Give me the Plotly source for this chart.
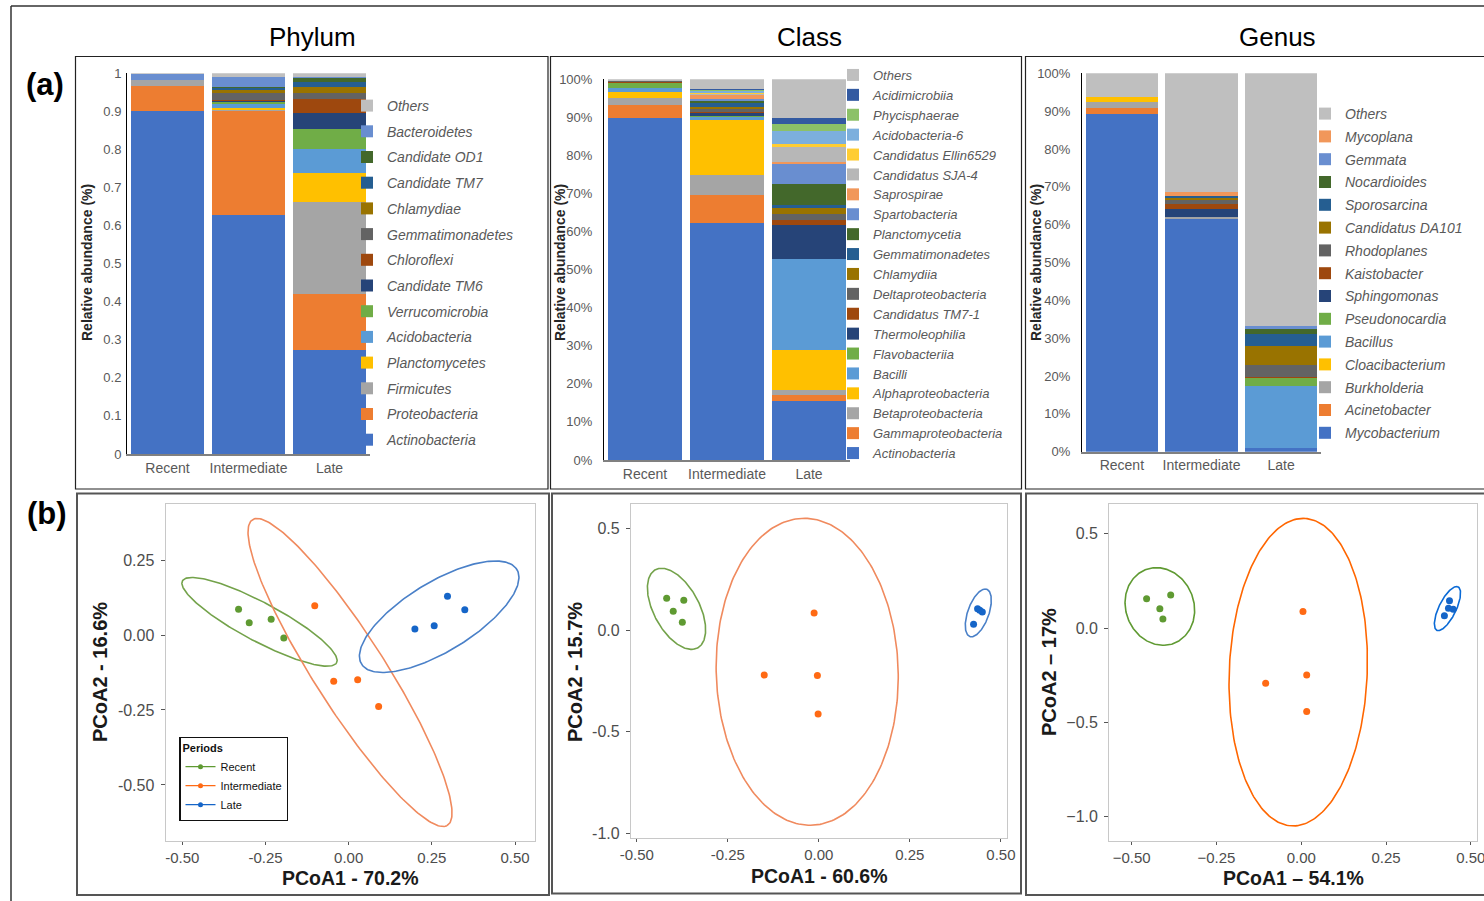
import numpy as np
import plotly.graph_objects as go

W, H = 1484, 901
FONT = "Liberation Sans, Arial, Helvetica, sans-serif"

periods = ["Recent", "Intermediate", "Late"]

# ---------------- relative abundance data (bottom-to-top stacking order) ----------------
phylum_taxa = ["Actinobacteria", "Proteobacteria", "Firmicutes", "Planctomycetes",
               "Acidobacteria", "Verrucomicrobia", "Candidate TM6", "Chloroflexi",
               "Gemmatimonadetes", "Chlamydiae", "Candidate TM7", "Candidate OD1",
               "Bacteroidetes", "Others"]
phylum_recent = [0.901, 0.066, 0.015, 0, 0, 0, 0, 0, 0, 0, 0, 0, 0.016, 0.002]
phylum_intermediate = [0.627, 0.274, 0.004, 0.003, 0.012, 0.006, 0.002, 0.002,
                       0.018, 0.007, 0.008, 0.002, 0.024, 0.011]
phylum_late = [0.274, 0.145, 0.243, 0.075, 0.063, 0.054, 0.043, 0.035,
               0.017, 0.016, 0.011, 0.011, 0.004, 0.009]

class_taxa = ["Actinobacteria", "Gammaproteobacteria", "Betaproteobacteria",
              "Alphaproteobacteria", "Bacilli", "Flavobacteriia", "Thermoleophilia",
              "Candidatus TM7-1", "Deltaproteobacteria", "Chlamydiia", "Gemmatimonadetes",
              "Planctomycetia", "Spartobacteria", "Saprospirae", "Candidatus SJA-4",
              "Candidatus Ellin6529", "Acidobacteria-6", "Phycisphaerae",
              "Acidimicrobiia", "Others"]
class_recent = [89.8, 3.5, 1.9, 1.5, 1.1, 1.2, 0.1, 0.3, 0.1, 0.1,
                0, 0, 0, 0, 0, 0, 0, 0, 0, 0.4]
class_intermediate = [62.3, 7.4, 5.1, 14.5, 0.8, 0.2, 0.8, 0.4, 0.6, 0.7,
                      1.1, 0.5, 0.5, 0.9, 0.3, 0.3, 0.6, 0.2, 0.2, 2.6]
class_late = [15.6, 1.5, 1.3, 10.5, 23.9, 0.1, 8.9, 1.3, 1.6, 1.6,
              0.7, 5.5, 5.4, 0.5, 3.9, 0.8, 3.3, 1.8, 1.6, 10.2]

genus_taxa = ["Mycobacterium", "Acinetobacter", "Burkholderia", "Cloacibacterium",
              "Bacillus", "Pseudonocardia", "Sphingomonas", "Kaistobacter",
              "Rhodoplanes", "Candidatus DA101", "Sporosarcina", "Nocardioides",
              "Gemmata", "Mycoplana", "Others"]
genus_recent = [89.3, 1.5, 1.6, 1.3, 0, 0, 0, 0, 0, 0, 0, 0, 0, 0, 6.3]
genus_intermediate = [61.5, 0, 0.6, 0, 0, 0, 2.0, 1.4, 1.2, 0.4, 0.5, 0, 0, 1.0, 31.4]
genus_late = [0.9, 0, 0, 0, 16.5, 2.0, 0, 0.4, 3.1, 5.1, 3.1, 1.2, 0.9, 0, 66.8]

series_colors = ["#4472C4", "#ED7D31", "#A5A5A5", "#FFC000", "#5B9BD5", "#70AD47",
                 "#264478", "#9E480E", "#636363", "#997300", "#255E91", "#43682B",
                 "#698ED0", "#F1975A", "#B7B7B7", "#FFCD33", "#7CAFDD", "#8CC168",
                 "#335AA1"]
others_color = "#BFBFBF"

phylum_ticks = [0, 0.1, 0.2, 0.3, 0.4, 0.5, 0.6, 0.7, 0.8, 0.9, 1]
phylum_ticktext = ["0", "0.1", "0.2", "0.3", "0.4", "0.5", "0.6", "0.7", "0.8", "0.9", "1"]
pct_ticks = [0, 10, 20, 30, 40, 50, 60, 70, 80, 90, 100]
pct_ticktext = [f"{v}%" for v in pct_ticks]

# ---------------- PCoA ordination data ----------------
group_names = ["Recent", "Intermediate", "Late"]
point_colors = ["#5F9A32", "#FF6A14", "#1565C8"]

phylum_pc1 = {"Recent": [-0.331, -0.299, -0.233, -0.195],
              "Intermediate": [-0.102, -0.045, 0.027, 0.090],
              "Late": [0.199, 0.257, 0.297, 0.349]}
phylum_pc2 = {"Recent": [0.086, 0.041, 0.053, -0.010],
              "Intermediate": [0.098, -0.154, -0.149, -0.238],
              "Late": [0.020, 0.031, 0.129, 0.084]}
class_pc1 = {"Recent": [-0.418, -0.371, -0.400, -0.375],
             "Intermediate": [-0.013, -0.150, -0.004, -0.002],
             "Late": [0.425, 0.436, 0.442, 0.449]}
class_pc2 = {"Recent": [0.156, 0.146, 0.092, 0.038],
             "Intermediate": [0.084, -0.221, -0.223, -0.413],
             "Late": [0.028, 0.104, 0.097, 0.088]}
genus_pc1 = {"Recent": [-0.456, -0.385, -0.417, -0.408],
             "Intermediate": [0.005, 0.016, -0.105, 0.016],
             "Late": [0.422, 0.437, 0.434, 0.448]}
genus_pc2 = {"Recent": [0.155, 0.175, 0.102, 0.048],
             "Intermediate": [0.088, -0.249, -0.293, -0.442],
             "Late": [0.065, 0.145, 0.104, 0.099]}

# confidence ellipses: centre x, centre y, semi-major, semi-minor, rotation (deg)
phylum_ellipses = {"Recent": (-0.268, 0.044, 0.269, 0.063, -30.8),
                   "Intermediate": (0.004, -0.125, 0.588, 0.110, -60.3),
                   "Late": (0.272, 0.061, 0.282, 0.112, 35.0)}
class_ellipses = {"Recent": (-0.391, 0.104, 0.204, 0.067, -76.9),
                  "Intermediate": (-0.032, -0.205, 0.754, 0.250, -89.3),
                  "Late": (0.438, 0.084, 0.119, 0.030, 80.2)}
genus_ellipses = {"Recent": (-0.417, 0.114, 0.206, 0.102, -86.3),
                  "Intermediate": (-0.009, -0.234, 0.815, 0.2035, 88.9),
                  "Late": (0.431, 0.103, 0.120, 0.027, 76.3)}
ellipse_colors_soft = ["#73A24A", "#F08A5E", "#4A80C8"]
ellipse_colors_sharp = ["#5F9A32", "#FF6600", "#0A6AD6"]

pc_ticks = [-0.5, -0.25, 0.0, 0.25, 0.5]
pc_ticktext = ["-0.50", "-0.25", "0.00", "0.25", "0.50"]
pc_ticktext_minus = ["\u22120.50", "\u22120.25", "0.00", "0.25", "0.50"]
phylum_y_ticks = [-0.5, -0.25, 0.0, 0.25]
phylum_y_ticktext = ["-0.50", "-0.25", "0.00", "0.25"]
class_y_ticks = [-1.0, -0.5, 0.0, 0.5]
class_y_ticktext = ["-1.0", "-0.5", "0.0", "0.5"]
genus_y_ticktext = ["\u22121.0", "\u22120.5", "0.0", "0.5"]


def fx(px):
    return px / W


def fy(py):
    return 1 - py / H


def ellipse_xy(cx, cy, a, b, deg, n=240):
    t = np.linspace(0, 2 * np.pi, n)
    th = np.deg2rad(deg)
    x = cx + a * np.cos(t) * np.cos(th) - b * np.sin(t) * np.sin(th)
    y = cy + a * np.cos(t) * np.sin(th) + b * np.sin(t) * np.cos(th)
    return x, y


fig = go.Figure()

# ---------------- stacked bars ----------------
bar_sets = [
    (phylum_taxa, [phylum_recent, phylum_intermediate, phylum_late], "x", "y", "legend"),
    (class_taxa, [class_recent, class_intermediate, class_late], "x2", "y2", "legend2"),
    (genus_taxa, [genus_recent, genus_intermediate, genus_late], "x3", "y3", "legend3"),
]
for k, (taxa, cols, xa, ya, lg) in enumerate(bar_sets):
    n = len(taxa)
    for i, name in enumerate(taxa):
        color = others_color if name == "Others" else series_colors[i]
        fig.add_trace(go.Bar(
            x=periods, y=[cols[0][i], cols[1][i], cols[2][i]], name=name,
            marker=dict(color=color, line=dict(width=0)),
            xaxis=xa, yaxis=ya, legend=lg, legendgroup=f"{lg}_{i}",
            legendrank=n - i,
            hovertemplate=f"{name}<br>%{{x}}: %{{y}}<extra></extra>",
        ))

# ---------------- PCoA scatter + ellipses ----------------
pcoa_sets = [
    (phylum_pc1, phylum_pc2, phylum_ellipses, "x4", "y4", ellipse_colors_soft),
    (class_pc1, class_pc2, class_ellipses, "x5", "y5", ellipse_colors_soft),
    (genus_pc1, genus_pc2, genus_ellipses, "x6", "y6", ellipse_colors_sharp),
]
for pc1, pc2, ells, xa, ya, ecols in pcoa_sets:
    for g, name in enumerate(group_names):
        ex, ey = ellipse_xy(*ells[name])
        fig.add_trace(go.Scatter(x=ex, y=ey, mode="lines", line=dict(color=ecols[g], width=1.6),
                                 xaxis=xa, yaxis=ya, showlegend=False, hoverinfo="skip"))
        fig.add_trace(go.Scatter(x=pc1[name], y=pc2[name], mode="markers", name=name,
                                 marker=dict(color=point_colors[g], size=7),
                                 xaxis=xa, yaxis=ya, showlegend=False))

# legend keys for the sampling periods
for g, name in enumerate(group_names):
    fig.add_trace(go.Scatter(x=[None], y=[None], mode="lines+markers", name=name,
                             line=dict(color=point_colors[g], width=1.2),
                             marker=dict(color=point_colors[g], size=5),
                             xaxis="x4", yaxis="y4", legend="legend4"))

# ---------------- axes ----------------
tick_grey = "#595959"
bar_x = dict(type="category", showline=True, linecolor="#808080", linewidth=1.5,
             ticks="", showgrid=False, automargin=False,
             tickfont=dict(size=14, color=tick_grey, family=FONT), fixedrange=True)
bar_y = dict(showline=True, linecolor="#000000", linewidth=1, ticks="", showgrid=False,
             zeroline=False, automargin=False,
             tickfont=dict(size=13, color=tick_grey, family=FONT), fixedrange=True)

layout = dict(
    width=W, height=H, margin=dict(l=0, r=0, t=0, b=0, autoexpand=False),
    template="none",
    paper_bgcolor="white", plot_bgcolor="rgba(0,0,0,0)",
    barmode="stack", bargap=0.09,
    font=dict(family=FONT),
    xaxis=dict(bar_x, domain=[fx(127), fx(370)], anchor="y"),
    yaxis=dict(bar_y, domain=[fy(454), fy(73.3)], anchor="x", range=[0, 1],
               tickvals=phylum_ticks, ticktext=phylum_ticktext, ticklabelstandoff=2),
    xaxis2=dict(bar_x, domain=[fx(604), fx(850)], anchor="y2"),
    yaxis2=dict(bar_y, domain=[fy(460), fy(79.3)], anchor="x2", range=[0, 100],
                tickvals=pct_ticks, ticktext=pct_ticktext, ticklabelstandoff=8),
    xaxis3=dict(bar_x, domain=[fx(1082), fx(1321)], anchor="y3"),
    yaxis3=dict(bar_y, domain=[fy(451.7), fy(73.3)], anchor="x3", range=[0, 100],
                tickvals=pct_ticks, ticktext=pct_ticktext, ticklabelstandoff=8),
)

pc_axis = dict(showline=True, mirror=True, linecolor="#C8C8C8", linewidth=1.3,
               ticks="outside", ticklen=4, tickcolor="#555555", tickwidth=1.2,
               showgrid=False, zeroline=False, automargin=False,
               tickfont=dict(size=16, color="#4D4D4D", family=FONT), fixedrange=True)
pc_xfont = dict(size=15, color="#4D4D4D", family=FONT)

layout.update(
    xaxis4=dict(pc_axis, domain=[fx(165.7), fx(535)], anchor="y4", range=[-0.55, 0.56],
                tickvals=pc_ticks, ticktext=pc_ticktext, ticklabelstandoff=0, ticklen=3,
                tickfont=pc_xfont),
    yaxis4=dict(pc_axis, domain=[fy(840.7), fy(504)], anchor="x4", range=[-0.686, 0.437],
                tickvals=phylum_y_ticks, ticktext=phylum_y_ticktext, ticklabelstandoff=3),
    xaxis5=dict(pc_axis, domain=[fx(631), fx(1006.7)], anchor="y5", range=[-0.516, 0.516],
                tickvals=pc_ticks, ticktext=pc_ticktext, ticklabelstandoff=0, ticklen=3,
                tickfont=pc_xfont),
    yaxis5=dict(pc_axis, domain=[fy(838.3), fy(504)], anchor="x5", range=[-1.023, 0.619],
                tickvals=class_y_ticks, ticktext=class_y_ticktext, ticklabelstandoff=3),
    xaxis6=dict(pc_axis, domain=[fx(1109.3), fx(1477.3)], anchor="y6", range=[-0.566, 0.519],
                tickvals=pc_ticks, ticktext=pc_ticktext_minus, ticklabelstandoff=0, ticklen=3,
                tickfont=pc_xfont, ticklabeloverflow="allow"),
    yaxis6=dict(pc_axis, domain=[fy(840.7), fy(504)], anchor="x6", range=[-1.127, 0.657],
                tickvals=class_y_ticks, ticktext=genus_y_ticktext, ticklabelstandoff=3),
)

# ---------------- legends ----------------
def taxa_legend(xp, yp, size, gap):
    return dict(x=fx(xp), y=fy(yp), xanchor="left", yanchor="top",
                bgcolor="rgba(0,0,0,0)", borderwidth=0,
                traceorder="grouped", tracegroupgap=gap, itemwidth=30,
                font=dict(size=size, color=tick_grey, family=FONT, style="italic"))

layout.update(
    legend=taxa_legend(347, 90, 14, 4.5),
    legend2=taxa_legend(833, 60, 13, 0),
    legend3=taxa_legend(1305, 98, 14, 1.6),
    legend4=dict(x=fx(179.3), y=fy(736.7), xanchor="left", yanchor="top",
                 bgcolor="white", bordercolor="#111111", borderwidth=1.2,
                 title=dict(text="<b>Periods</b>", font=dict(size=11, color="#111111")),
                 font=dict(size=11, color="#111111", family=FONT), itemwidth=30,
                 tracegroupgap=0),
)

# ---------------- text ----------------
ann = []


def label(text, xc, yc, size, color="#000000", angle=0):
    ann.append(dict(text=text, x=fx(xc), y=fy(yc), xref="paper", yref="paper",
                    xanchor="center", yanchor="middle", showarrow=False, textangle=angle,
                    font=dict(size=size, color=color)))


for txt, xc in [("Phylum", 312), ("Class", 809), ("Genus", 1277)]:
    label(txt, xc, 37, 26)
for txt, xc, yc in [("(a)", 45, 85), ("(b)", 47, 513)]:
    label(f"<b>{txt}</b>", xc, yc, 31)
for xc in [87, 560, 1036]:
    label("<b>Relative abundance (%)</b>", xc, 263, 14, "#262626", -90)
for txt, xc, yc in [("PCoA1 - 70.2%", 350, 878), ("PCoA1 - 60.6%", 819, 876),
                    ("PCoA1 \u2013 54.1%", 1293, 878)]:
    label(f"<b>{txt}</b>", xc, yc, 19.5, "#1A1A1A")
for txt, xc, yc in [("PCoA2 - 16.6%", 100, 672), ("PCoA2 - 15.7%", 575, 672),
                    ("PCoA2 \u2013 17%", 1049, 672)]:
    label(f"<b>{txt}</b>", xc, yc, 20, "#1A1A1A", -90)
layout["annotations"] = ann

# ---------------- panel frames ----------------
shapes = []
for x0, y0, x1, y1, col, w in [
    (75.5, 56.5, 548, 489, "#222222", 1.2),
    (550.5, 56.5, 1021.5, 489, "#222222", 1.2),
    (1025.5, 56.5, 1492, 489, "#222222", 1.2),
    (77, 493.5, 549, 895, "#555555", 2),
    (552, 493.5, 1021, 893.5, "#555555", 2),
    (1026, 493.5, 1492, 895, "#555555", 2),
]:
    shapes.append(dict(type="rect", xref="paper", yref="paper", x0=fx(x0), x1=fx(x1),
                       y0=fy(y1), y1=fy(y0), line=dict(color=col, width=w)))
shapes.append(dict(type="line", xref="paper", yref="paper", x0=fx(11), x1=fx(11),
                   y0=fy(905), y1=fy(6), line=dict(color="#333333", width=1.5)))
shapes.append(dict(type="line", xref="paper", yref="paper", x0=fx(11), x1=fx(1490),
                   y0=fy(6), y1=fy(6), line=dict(color="#333333", width=1.5)))
# frame around the period legend keys
shapes.append(dict(type="rect", xref="paper", yref="paper", x0=fx(183), x1=fx(216),
                   y0=fy(816), y1=fy(757), line=dict(color="#111111", width=1.2)))
layout["shapes"] = shapes

fig.update_layout(layout)
fig.write_html("out.html")
